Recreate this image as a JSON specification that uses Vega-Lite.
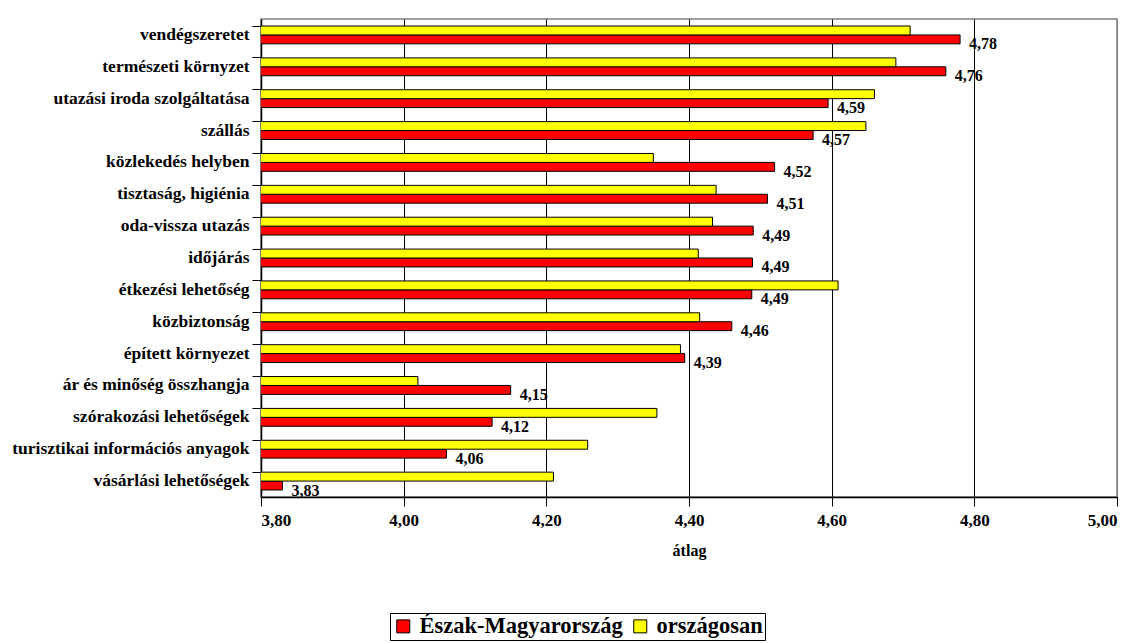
{
  "$schema": "https://vega.github.io/schema/vega-lite/v6.json",
  "width": 856,
  "height": 478,
  "autosize": {"type": "none"},
  "padding": {"left": 261, "top": 19, "right": 16, "bottom": 146},
  "background": "white",
  "config": {
    "locale": {"number": {"decimal": ",", "thousands": " ", "grouping": [3], "currency": ["", " Ft"]}},
    "font": "Liberation Serif",
    "view": {"stroke": "#808080", "strokeWidth": 1.5}
  },
  "data": {
    "values": [
      {"tenyezo": "vendégszeretet", "csoport": "Észak-Magyarország", "atlag": 4.78},
      {"tenyezo": "vendégszeretet", "csoport": "országosan", "atlag": 4.71},
      {"tenyezo": "természeti környzet", "csoport": "Észak-Magyarország", "atlag": 4.76},
      {"tenyezo": "természeti környzet", "csoport": "országosan", "atlag": 4.69},
      {"tenyezo": "utazási iroda szolgáltatása", "csoport": "Észak-Magyarország", "atlag": 4.595},
      {"tenyezo": "utazási iroda szolgáltatása", "csoport": "országosan", "atlag": 4.66},
      {"tenyezo": "szállás", "csoport": "Észak-Magyarország", "atlag": 4.574},
      {"tenyezo": "szállás", "csoport": "országosan", "atlag": 4.648},
      {"tenyezo": "közlekedés helyben", "csoport": "Észak-Magyarország", "atlag": 4.52},
      {"tenyezo": "közlekedés helyben", "csoport": "országosan", "atlag": 4.35},
      {"tenyezo": "tisztaság, higiénia", "csoport": "Észak-Magyarország", "atlag": 4.51},
      {"tenyezo": "tisztaság, higiénia", "csoport": "országosan", "atlag": 4.438},
      {"tenyezo": "oda-vissza utazás", "csoport": "Észak-Magyarország", "atlag": 4.49},
      {"tenyezo": "oda-vissza utazás", "csoport": "országosan", "atlag": 4.433},
      {"tenyezo": "időjárás", "csoport": "Észak-Magyarország", "atlag": 4.489},
      {"tenyezo": "időjárás", "csoport": "országosan", "atlag": 4.413},
      {"tenyezo": "étkezési lehetőség", "csoport": "Észak-Magyarország", "atlag": 4.488},
      {"tenyezo": "étkezési lehetőség", "csoport": "országosan", "atlag": 4.609},
      {"tenyezo": "közbiztonság", "csoport": "Észak-Magyarország", "atlag": 4.46},
      {"tenyezo": "közbiztonság", "csoport": "országosan", "atlag": 4.415},
      {"tenyezo": "épített környezet", "csoport": "Észak-Magyarország", "atlag": 4.394},
      {"tenyezo": "épített környezet", "csoport": "országosan", "atlag": 4.388},
      {"tenyezo": "ár és minőség összhangja", "csoport": "Észak-Magyarország", "atlag": 4.15},
      {"tenyezo": "ár és minőség összhangja", "csoport": "országosan", "atlag": 4.02},
      {"tenyezo": "szórakozási lehetőségek", "csoport": "Észak-Magyarország", "atlag": 4.124},
      {"tenyezo": "szórakozási lehetőségek", "csoport": "országosan", "atlag": 4.355},
      {"tenyezo": "turisztikai információs anyagok", "csoport": "Észak-Magyarország", "atlag": 4.06},
      {"tenyezo": "turisztikai információs anyagok", "csoport": "országosan", "atlag": 4.258},
      {"tenyezo": "vásárlási lehetőségek", "csoport": "Észak-Magyarország", "atlag": 3.83},
      {"tenyezo": "vásárlási lehetőségek", "csoport": "országosan", "atlag": 4.21}
    ]
  },
  "encoding": {
    "y": {
      "field": "tenyezo",
      "type": "nominal",
      "sort": null,
      "scale": {"paddingInner": 0.44, "paddingOuter": 0.22},
      "axis": {
        "title": null,
        "labelFont": "Liberation Serif",
        "labelFontWeight": "bold",
        "labelFontSize": 17.5,
        "labelColor": "black",
        "labelPadding": 3,
        "labelLimit": 300,
        "bandPosition": 0,
        "tickSize": 9,
        "tickColor": "black",
        "domainColor": "black",
        "domainWidth": 1.5,
        "grid": false
      }
    },
    "x": {
      "field": "atlag",
      "type": "quantitative",
      "scale": {"domain": [3.8, 5.0], "zero": false, "nice": false},
      "axis": {
        "title": "átlag",
        "titleFont": "Liberation Serif",
        "titleFontWeight": "bold",
        "titleFontSize": 16,
        "titleColor": "black",
        "titlePadding": 14,
        "values": [3.8, 4.0, 4.2, 4.4, 4.6, 4.8, 5.0],
        "format": ".2f",
        "labelFont": "Liberation Serif",
        "labelFontWeight": "bold",
        "labelFontSize": 17,
        "labelColor": "black",
        "labelPadding": 6,
        "tickSize": 9,
        "tickColor": "black",
        "domainColor": "black",
        "domainWidth": 1.5,
        "grid": true,
        "gridColor": {"condition": {"test": "datum.value >= 4.99 || datum.value <= 3.81", "value": "#808080"}, "value": "black"},
        "gridWidth": 1
      }
    }
  },
  "layer": [
    {
      "mark": {"type": "bar", "stroke": "black", "strokeWidth": 1, "clip": true},
      "encoding": {
        "yOffset": {"field": "csoport", "type": "nominal", "scale": {"domain": ["országosan", "Észak-Magyarország"]}},
        "color": {
          "field": "csoport",
          "type": "nominal",
          "scale": {"domain": ["Észak-Magyarország", "országosan"], "range": ["#ff0000", "#ffff00"]},
          "legend": {
            "title": null,
            "orient": "none",
            "legendX": 129,
            "legendY": 594,
            "direction": "horizontal",
            "symbolType": "square",
            "symbolSize": 169,
            "symbolStrokeColor": "black",
            "symbolStrokeWidth": 1,
            "labelFont": "Liberation Serif",
            "labelFontWeight": "bold",
            "labelFontSize": 22.5,
            "labelColor": "black",
            "labelLimit": 400,
            "labelOffset": 5,
            "columnPadding": 6,
            "padding": 2,
            "strokeColor": "black",
            "fillColor": "white"
          }
        }
      }
    },
    {
      "transform": [{"filter": "datum.csoport === 'Észak-Magyarország'"}],
      "mark": {"type": "text", "align": "left", "baseline": "middle", "dx": 9, "dy": 5, "font": "Liberation Serif", "fontWeight": "bold", "fontSize": 16, "color": "black"},
      "encoding": {
        "yOffset": {"field": "csoport", "type": "nominal", "scale": {"domain": ["országosan", "Észak-Magyarország"]}},
        "text": {"field": "atlag", "type": "quantitative", "format": ".2f"}
      }
    }
  ]
}
